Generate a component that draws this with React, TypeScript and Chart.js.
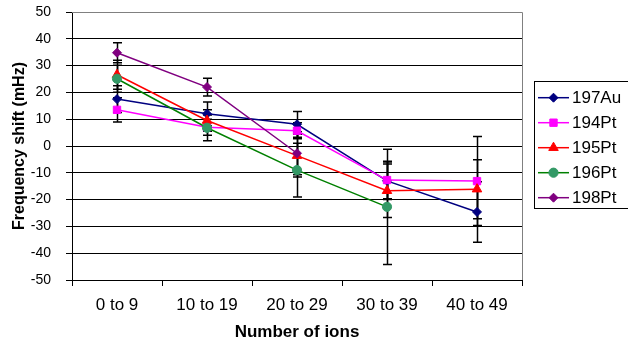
import React, { useEffect, useRef } from "react";
import { Chart, registerables } from "chart.js";

Chart.register(...registerables);

const categories = ["0 to 9", "10 to 19", "20 to 29", "30 to 39", "40 to 49"];

const au197 = [17.5, 12.0, 8.1, -13.0, -24.6];
const pt194 = [13.5, 7.0, 5.7, -12.7, -13.1];
const pt195 = [26.6, 9.5, -3.6, -16.7, -16.1];
const pt196 = [25.1, 6.8, -9.0, -22.7, null];
const pt198 = [34.8, 22.0, -2.7, null, null];

const au197Err = [5.0, 4.4, 4.8, 7.0, 11.3];
const pt194Err = [4.5, 3.0, 3.0, 7.0, 16.6];
const pt195Err = [5.4, 4.0, 8.0, 10.0, 11.0];
const pt196Err = [5.0, 4.8, 10.0, 21.5, null];
const pt198Err = [3.7, 3.3, 8.0, null, null];

const yTicks = [-50, -40, -30, -20, -10, 0, 10, 20, 30, 40, 50];

const FONT = "'Liberation Sans', Arial, sans-serif";

const seriesDefs = [
  { label: "197Au", data: au197, err: au197Err, line: "#000080", fill: "#000080", style: "rectRot", r: 4.5 },
  { label: "194Pt", data: pt194, err: pt194Err, line: "#FF00FF", fill: "#FF00FF", style: "rect", r: 5.2 },
  { label: "195Pt", data: pt195, err: pt195Err, line: "#FF0000", fill: "#FF0000", style: "triangle", r: 5.5 },
  { label: "196Pt", data: pt196, err: pt196Err, line: "#008000", fill: "#339966", style: "circle", r: 4.6 },
  { label: "198Pt", data: pt198, err: pt198Err, line: "#800080", fill: "#800080", style: "rectRot", r: 4.5 },
];

const errorBarPlugin = {
  id: "errorBars",
  beforeDatasetsDraw(chart: any) {
    const ctx = chart.ctx;
    const y = chart.scales.y;
    ctx.save();
    ctx.strokeStyle = "#000";
    ctx.lineWidth = 1.5;
    chart.data.datasets.forEach((ds: any, di: number) => {
      const meta = chart.getDatasetMeta(di);
      const errs = ds.errors || [];
      ds.data.forEach((v: any, i: number) => {
        const e = errs[i];
        if (v == null || e == null) return;
        const pt = meta.data[i];
        if (!pt) return;
        const x = Math.round(pt.x) + 0.5;
        const yt = y.getPixelForValue(v + e);
        const yb = y.getPixelForValue(v - e);
        ctx.beginPath();
        ctx.moveTo(x, yt);
        ctx.lineTo(x, yb);
        ctx.moveTo(x - 4.5, yt);
        ctx.lineTo(x + 4.5, yt);
        ctx.moveTo(x - 4.5, yb);
        ctx.lineTo(x + 4.5, yb);
        ctx.stroke();
      });
    });
    ctx.restore();
  },
};

function drawMarker(ctx: CanvasRenderingContext2D, style: string, r: number, x: number, y: number) {
  ctx.beginPath();
  if (style === "circle") {
    ctx.arc(x, y, r, 0, Math.PI * 2);
  } else if (style === "rect") {
    const s = r * Math.SQRT1_2;
    ctx.rect(x - s, y - s, 2 * s, 2 * s);
  } else if (style === "rectRot") {
    ctx.moveTo(x, y - r);
    ctx.lineTo(x + r, y);
    ctx.lineTo(x, y + r);
    ctx.lineTo(x - r, y);
    ctx.closePath();
  } else if (style === "triangle") {
    ctx.moveTo(x, y - r);
    ctx.lineTo(x + r * 0.866, y + r * 0.5);
    ctx.lineTo(x - r * 0.866, y + r * 0.5);
    ctx.closePath();
  }
  ctx.fill();
  ctx.stroke();
}

const frameAndLegendPlugin = {
  id: "frameLegend",
  beforeDatasetsDraw(chart: any) {
    const { ctx, chartArea } = chart;
    ctx.save();
    ctx.strokeStyle = "#808080";
    ctx.lineWidth = 1;
    ctx.beginPath();
    ctx.moveTo(chartArea.left, Math.round(chartArea.top) + 0.5);
    ctx.lineTo(Math.round(chartArea.right) + 0.5, Math.round(chartArea.top) + 0.5);
    ctx.lineTo(Math.round(chartArea.right) + 0.5, chartArea.bottom);
    ctx.stroke();
    ctx.restore();
  },
  afterDraw(chart: any) {
    const { ctx } = chart;
    const boxL = 534.5;
    const boxT = 81.5;
    const boxB = 208.5;
    ctx.save();
    ctx.fillStyle = "#fff";
    ctx.fillRect(boxL, boxT, 100, boxB - boxT);
    ctx.strokeStyle = "#000";
    ctx.lineWidth = 1;
    ctx.strokeRect(boxL, boxT, 100, boxB - boxT);
    chart.data.datasets.forEach((ds: any, i: number) => {
      const cy = 97.7 + i * 25;
      ctx.strokeStyle = ds.borderColor;
      ctx.lineWidth = 1.5;
      ctx.beginPath();
      ctx.moveTo(538, cy);
      ctx.lineTo(569, cy);
      ctx.stroke();
      ctx.fillStyle = ds.pointBackgroundColor;
      ctx.strokeStyle = ds.pointBorderColor;
      ctx.lineWidth = 1;
      drawMarker(ctx, ds.pointStyle, ds.pointRadius, 553.5, cy);
      ctx.fillStyle = "#000";
      ctx.font = `17px ${FONT}`;
      ctx.textBaseline = "middle";
      ctx.textAlign = "left";
      ctx.fillText(ds.label, 572, cy + 0.5);
    });
    ctx.restore();
  },
};

export default function App() {
  const ref = useRef<HTMLCanvasElement | null>(null);
  useEffect(() => {
    if (!ref.current) return;
    const datasets = seriesDefs.map((s, i) => ({
      label: s.label,
      data: s.data,
      errors: s.err,
      borderColor: s.line,
      backgroundColor: s.fill,
      borderWidth: 1.5,
      pointStyle: s.style,
      pointRadius: s.r,
      pointBackgroundColor: s.fill,
      pointBorderColor: s.fill,
      pointBorderWidth: 1,
      tension: 0,
      spanGaps: false,
      order: -i,
    }));
    const chart = new Chart(ref.current, {
      type: "line",
      data: { labels: categories, datasets: datasets as any },
      options: {
        animation: false,
        responsive: false,
        devicePixelRatio: 1,
        layout: { padding: { top: 12, right: 106, left: 0, bottom: 0 } },
        plugins: {
          legend: { display: false },
          tooltip: { enabled: false },
        },
        scales: {
          x: {
            type: "category",
            offset: true,
            grid: {
              offset: true,
              drawOnChartArea: false,
              drawTicks: true,
              tickLength: 6,
              color: "#000",
              lineWidth: 1,
            },
            border: { color: "#000", width: 1 },
            ticks: {
              color: "#000",
              padding: 9,
              maxRotation: 0,
              autoSkip: false,
              font: { family: FONT, size: 17 },
            },
            title: {
              display: true,
              text: "Number of ions",
              color: "#000",
              font: { family: FONT, size: 17, weight: "bold" },
              padding: { top: 0, bottom: 4 },
            },
            afterFit: (scale: any) => {
              scale.height = 67;
              scale.paddingLeft = 0;
              scale.paddingRight = 0;
            },
          },
          y: {
            min: -50,
            max: 50,
            afterBuildTicks: (scale: any) => {
              scale.ticks = yTicks.map((v) => ({ value: v }));
            },
            grid: {
              color: "#000",
              lineWidth: 1,
              drawTicks: true,
              tickLength: 6,
            },
            border: { color: "#000", width: 1 },
            ticks: {
              color: "#000",
              padding: 15,
              font: { family: FONT, size: 14 },
            },
            title: {
              display: true,
              text: "Frequency shift (mHz)",
              color: "#000",
              font: { family: FONT, size: 16, weight: "bold" },
              padding: { top: 10, bottom: 0 },
            },
            afterFit: (scale: any) => {
              scale.width = 72;
              scale.paddingTop = 0;
              scale.paddingBottom = 0;
            },
          },
        },
      },
      plugins: [errorBarPlugin, frameAndLegendPlugin],
    });
    return () => chart.destroy();
  }, []);
  return (
    <div style={{ position: "absolute", left: 0, top: 0, width: 628, height: 347, background: "#fff" }}>
      <canvas ref={ref} width={628} height={347} style={{ display: "block", width: 628, height: 347 }} />
    </div>
  );
}
